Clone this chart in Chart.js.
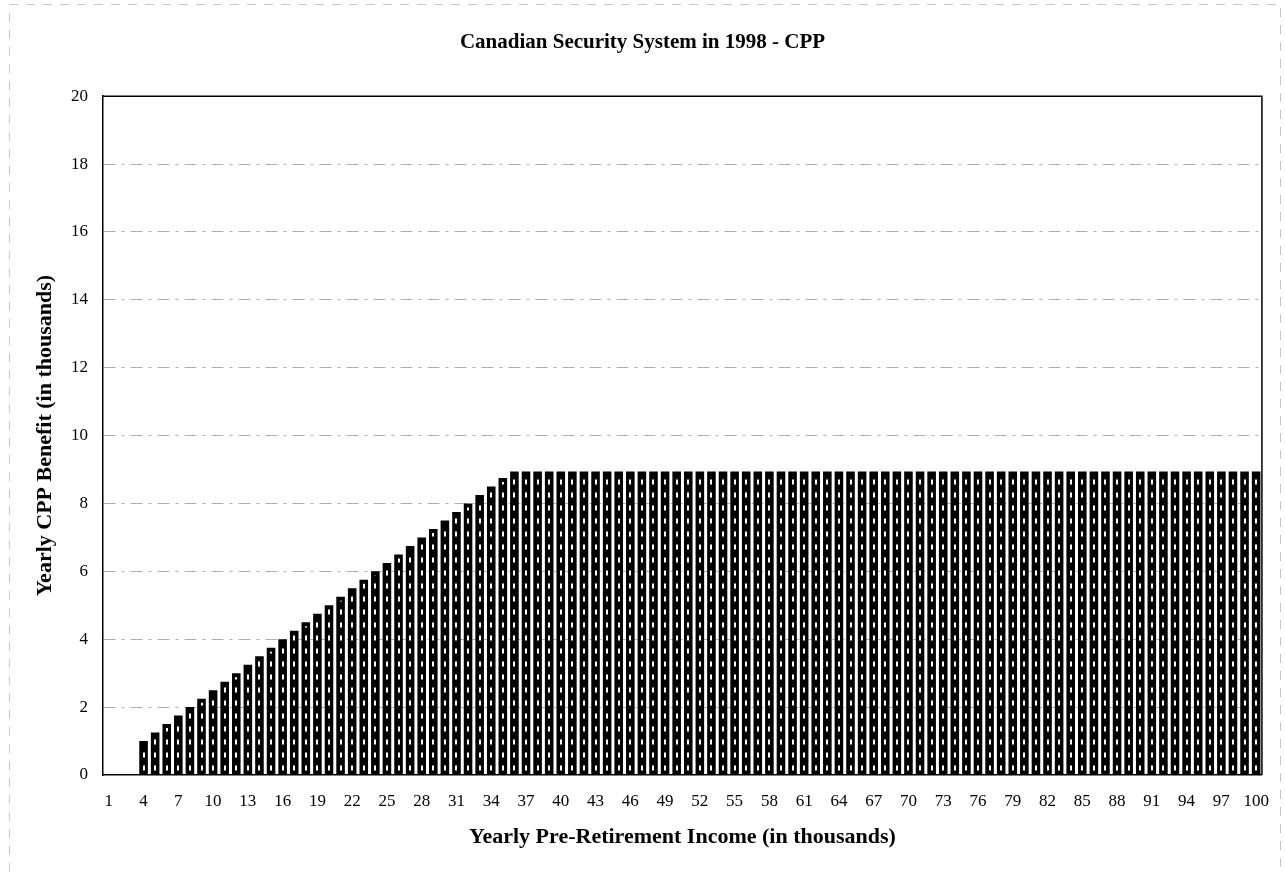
<!DOCTYPE html>
<html>
<head>
<meta charset="utf-8">
<script src="https://cdn.jsdelivr.net/npm/chart.js@4"></script>
<style>
  html, body { margin: 0; padding: 0; background: #fff; }
  #wrap { width: 1285px; height: 876px; position: relative; }
</style>
</head>
<body>
<div id="wrap"><canvas id="cpp" width="1285" height="876"></canvas></div>
<script>
// Yearly pre-retirement income, in thousands of dollars
const incomes = [
  1, 2, 3, 4, 5, 6, 7, 8, 9, 10,
  11, 12, 13, 14, 15, 16, 17, 18, 19, 20,
  21, 22, 23, 24, 25, 26, 27, 28, 29, 30,
  31, 32, 33, 34, 35, 36, 37, 38, 39, 40,
  41, 42, 43, 44, 45, 46, 47, 48, 49, 50,
  51, 52, 53, 54, 55, 56, 57, 58, 59, 60,
  61, 62, 63, 64, 65, 66, 67, 68, 69, 70,
  71, 72, 73, 74, 75, 76, 77, 78, 79, 80,
  81, 82, 83, 84, 85, 86, 87, 88, 89, 90,
  91, 92, 93, 94, 95, 96, 97, 98, 99, 100
];

// Yearly CPP benefit, in thousands of dollars
const cppBenefit = [
  0, 0, 0, 1.0, 1.25, 1.5, 1.75, 2.0, 2.25, 2.5,
  2.75, 3.0, 3.25, 3.5, 3.75, 4.0, 4.25, 4.5, 4.75, 5.0,
  5.25, 5.5, 5.75, 6.0, 6.25, 6.5, 6.75, 7.0, 7.25, 7.5,
  7.75, 8.0, 8.25, 8.5, 8.75, 8.94, 8.94, 8.94, 8.94, 8.94,
  8.94, 8.94, 8.94, 8.94, 8.94, 8.94, 8.94, 8.94, 8.94, 8.94,
  8.94, 8.94, 8.94, 8.94, 8.94, 8.94, 8.94, 8.94, 8.94, 8.94,
  8.94, 8.94, 8.94, 8.94, 8.94, 8.94, 8.94, 8.94, 8.94, 8.94,
  8.94, 8.94, 8.94, 8.94, 8.94, 8.94, 8.94, 8.94, 8.94, 8.94,
  8.94, 8.94, 8.94, 8.94, 8.94, 8.94, 8.94, 8.94, 8.94, 8.94,
  8.94, 8.94, 8.94, 8.94, 8.94, 8.94, 8.94, 8.94, 8.94, 8.94
];

const yTicks = [0, 2, 4, 6, 8, 10, 12, 14, 16, 18, 20];

const SERIF = '"Liberation Serif", "Times New Roman", serif';

// Faint dashed border round the chart (left, top and right sides)
const outerBorder = {
  id: 'outerBorder',
  beforeDraw(chart) {
    const ctx = chart.ctx;
    ctx.save();
    ctx.strokeStyle = '#c8c8c8';
    ctx.lineWidth = 1;
    ctx.setLineDash([9, 8]);
    ctx.beginPath();
    ctx.moveTo(9.5, chart.height - 4);
    ctx.lineTo(9.5, 4.5);
    ctx.lineTo(chart.width - 4.5, 4.5);
    ctx.lineTo(chart.width - 4.5, chart.height - 4);
    ctx.stroke();
    ctx.restore();
  }
};

// White dashed stripe down the middle of every bar
const barStripes = {
  id: 'barStripes',
  afterDatasetsDraw(chart) {
    const ctx = chart.ctx;
    const meta = chart.getDatasetMeta(0);
    ctx.save();
    ctx.strokeStyle = '#ffffff';
    ctx.lineWidth = 2;
    ctx.setLineDash([5, 8]);
    meta.data.forEach(bar => {
      if (bar.base - bar.y < 6) return;
      ctx.beginPath();
      ctx.moveTo(Math.round(bar.x), bar.base - 4);
      ctx.lineTo(Math.round(bar.x), bar.y + 4);
      ctx.stroke();
    });
    ctx.restore();
  }
};

// Solid frame on the top and right of the plot area
const plotFrame = {
  id: 'plotFrame',
  afterDraw(chart) {
    const { left, right, top, bottom } = chart.chartArea;
    const ctx = chart.ctx;
    ctx.save();
    ctx.strokeStyle = '#000';
    ctx.lineWidth = 1.5;
    ctx.beginPath();
    ctx.moveTo(left, top);
    ctx.lineTo(right, top);
    ctx.lineTo(right, bottom);
    ctx.stroke();
    ctx.restore();
  }
};

new Chart(document.getElementById('cpp'), {
  type: 'bar',
  data: {
    labels: incomes,
    datasets: [{
      data: cppBenefit,
      backgroundColor: '#000',
      borderWidth: 0,
      barPercentage: 0.74,
      categoryPercentage: 1.0
    }]
  },
  options: {
    responsive: false,
    animation: false,
    layout: { padding: { left: 23, right: 23, top: 0, bottom: 25 } },
    plugins: {
      legend: { display: false },
      tooltip: { enabled: false },
      title: {
        display: true,
        text: 'Canadian Security System in 1998 - CPP',
        color: '#000',
        font: { family: SERIF, size: 21, weight: 'bold' },
        padding: { top: 30, bottom: 41 }
      }
    },
    scales: {
      x: {
        grid: { display: false, drawTicks: false },
        border: { color: '#000', width: 1.5 },
        afterFit(scale) { scale.height = 76; },
        ticks: {
          autoSkip: false,
          maxRotation: 0,
          minRotation: 0,
          padding: 16,
          color: '#000',
          font: { family: SERIF, size: 17 },
          callback(value, index) { return index % 3 === 0 ? incomes[index] : ''; }
        },
        title: {
          display: true,
          text: 'Yearly Pre-Retirement Income (in thousands)',
          color: '#000',
          font: { family: SERIF, size: 22, weight: 'bold' },
          padding: { top: 0, bottom: 0 }
        }
      },
      y: {
        min: 0,
        max: 20,
        afterFit(scale) { scale.width = 80; },
        afterBuildTicks(scale) { scale.ticks = yTicks.map(v => ({ value: v })); },
        grid: {
          drawTicks: false,
          lineWidth: 1,
          color(ctx) {
            const v = ctx.tick ? ctx.tick.value : null;
            return (v === 0 || v === 20) ? 'rgba(0,0,0,0)' : '#b0b0b0';
          }
        },
        // dashes for the horizontal grid lines
        border: { color: '#000', width: 1.5, dash: [12, 6, 3, 6] },
        ticks: {
          padding: 15,
          color: '#000',
          font: { family: SERIF, size: 17 }
        },
        title: {
          display: true,
          text: 'Yearly CPP Benefit (in thousands)',
          color: '#000',
          font: { family: SERIF, size: 22, weight: 'bold' },
          padding: { top: 9, bottom: 0 }
        }
      }
    }
  },
  plugins: [outerBorder, barStripes, plotFrame]
});
</script>
</body>
</html>
